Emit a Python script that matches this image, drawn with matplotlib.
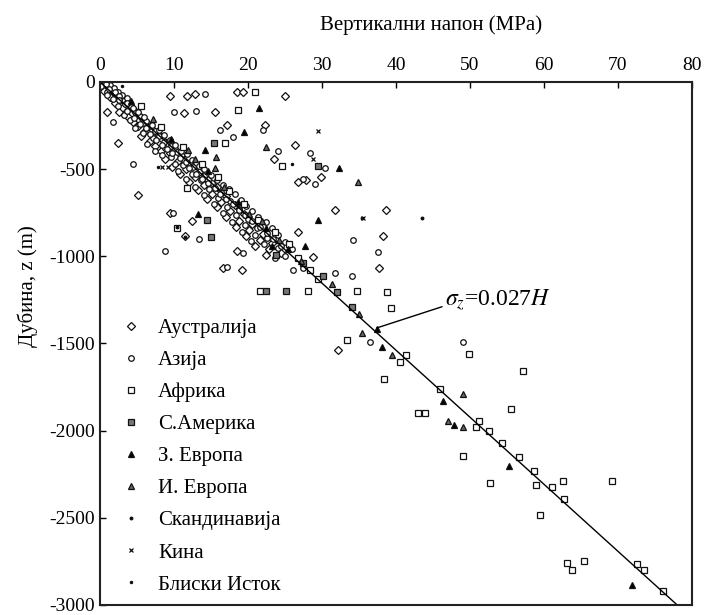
import matplotlib
matplotlib.use('Agg')
import matplotlib.pyplot as plt

plt.rcParams['font.family'] = ['Liberation Serif', 'DejaVu Serif']
plt.rcParams['mathtext.fontset'] = 'stix'
plt.rcParams['axes.unicode_minus'] = False

# ── Data: (vertical stress MPa, depth m) per region ───────────────────────────
australia_x = [0.4, 1.0, 1.6, 0.6, 2.2, 1.3, 2.8, 3.3, 2.0, 4.0, 3.0, 4.6, 2.6, 5.0, 3.8,
               5.8, 4.4, 6.5, 5.2, 7.0, 6.0, 7.8, 5.5, 8.4, 6.8, 9.0, 7.5, 10.0, 8.2, 9.4,
               11.0, 8.8, 10.6, 12.2, 9.8, 11.6, 13.4, 10.8, 12.8, 14.6, 12.0, 14.0, 15.8,
               13.2, 15.2, 17.0, 14.4, 16.4, 18.2, 15.8, 17.6, 19.4, 17.0, 18.8, 20.6, 18.4,
               20.2, 22.0, 19.8, 21.6, 23.2, 21.0, 22.8, 24.4, 22.4,
               25.0, 9.5, 12.8, 11.8, 18.5, 19.3, 15.5, 11.4, 0.9, 2.4, 5.1, 17.2, 22.3,
               26.4, 23.5, 26.8, 27.8, 29.9, 31.8, 38.6, 38.2, 37.7, 32.2, 9.5, 11.5, 12.4,
               18.5, 16.6, 19.2, 28.8, 26.8]
australia_z = [-15, -30, -45, -50, -70, -85, -95, -110, -120, -130, -150, -160, -175, -185, -200,
               -210, -230, -240, -255, -270, -285, -300, -310, -325, -340, -350, -365, -380, -395, -410,
               -420, -440, -455, -470, -485, -500, -515, -530, -545, -560, -575, -590, -605,
               -620, -640, -655, -670, -690, -705, -720, -740, -760, -775, -795, -815, -830,
               -850, -870, -885, -905, -925, -940, -960, -980, -995,
               -80, -80, -69, -80, -57, -57, -171, -177, -171, -349, -651, -246, -246,
               -360, -440, -571, -560, -543, -737, -737, -886, -1069, -1537, -749, -886, -800,
               -971, -1069, -1080, -1006, -863]

asia_x = [0.2, 1.4, 0.9, 1.9, 2.5, 1.7, 3.0, 3.6, 2.4, 3.4, 4.2, 3.2, 4.8, 5.4, 4.0, 5.8,
          6.2, 4.8, 6.8, 7.4, 5.8, 7.2, 8.0, 6.4, 8.6, 9.6, 7.4, 8.8, 10.4, 8.4, 9.6, 11.4,
          10.2, 11.2, 12.6, 10.6, 12.4, 14.0, 11.6, 13.6, 15.2, 12.8, 14.8, 16.4, 14.0, 16.0,
          17.6, 15.4, 17.2, 18.8, 16.6, 18.4, 20.0, 17.8, 19.6, 21.2, 19.2, 21.0, 22.6, 20.4,
          22.2, 24.0, 23.6, 25.0,
          14.2, 13.0, 10.0, 1.8, 4.5, 8.8, 16.2, 18.0, 22.0, 24.1, 28.4, 27.4, 29.1, 30.4,
          34.2, 37.6, 31.8, 49.0, 9.9, 13.4, 19.3, 17.2, 26.1, 27.4, 34.0, 36.5,
          0.8, 1.2, 2.0, 2.6, 1.0, 3.6, 2.6, 4.4, 3.6, 5.2, 4.6, 6.0, 5.4, 7.0, 6.2, 8.0,
          6.8, 8.6, 7.6, 9.4, 8.4, 10.2, 9.0, 11.0, 9.8, 11.8, 10.8, 12.4, 11.6, 13.4, 12.0,
          14.0, 13.0, 15.0, 13.8, 15.8, 14.6, 16.6, 15.6, 17.4, 16.2, 18.2, 17.0, 19.0, 18.0,
          19.8, 18.8, 20.6, 19.6, 21.4, 20.6, 22.4, 21.6, 23.2, 22.6, 24.0, 23.4, 25.0, 24.4, 26.0]
asia_z = [-25, -20, -60, -35, -55, -100, -75, -90, -140, -125, -145, -190, -175, -195, -220, -235,
          -225, -265, -255, -280, -295, -320, -310, -355, -345, -365, -395, -380, -400, -420, -430, -445,
          -470, -475, -490, -510, -525, -540, -555, -565, -580, -600, -615, -630, -650, -665,
          -680, -700, -715, -730, -750, -765, -785, -805, -820, -840, -860, -875, -895, -915,
          -930, -950, -1010, -1000,
          -69, -166, -171, -229, -469, -971, -274, -314, -274, -394, -406, -554, -583, -491,
          -909, -977, -1097, -1491, -749, -903, -983, -1063, -1080, -1069, -1114, -1491,
          -10, -40, -60, -80, -75, -120, -105, -150, -165, -170, -205, -200, -240, -245, -265, -275,
          -300, -305, -330, -335, -360, -360, -385, -395, -405, -415, -435, -450, -460, -480, -495,
          -500, -530, -535, -555, -560, -580, -590, -610, -615, -645, -645, -670, -675, -700,
          -710, -735, -740, -765, -775, -800, -805, -830, -840, -865, -880, -900, -920, -940, -960]

africa_x = [5.6, 8.2, 11.2, 13.8, 16.0, 17.4, 19.4, 21.4, 23.6, 25.6, 26.8, 28.4, 29.4,
            21.0, 18.6, 24.6, 16.9, 11.8, 10.4, 21.6, 28.1, 34.7, 38.8, 39.3, 33.4,
            40.5, 41.4, 49.9, 57.2, 38.4, 45.9, 43.0, 43.9, 55.5, 50.8, 51.2, 52.6,
            54.3, 49.0, 56.6, 58.6, 52.7, 58.9, 61.1, 62.6, 62.7, 69.2, 59.5, 63.1,
            63.8, 65.4, 72.6, 73.5, 76.1]
africa_z = [-140, -260, -375, -470, -545, -625, -700, -790, -860, -930, -1010, -1080, -1130,
            -57, -160, -480, -349, -606, -840, -1200, -1200, -1200, -1206, -1297, -1480,
            -1606, -1566, -1560, -1657, -1703, -1760, -1897, -1897, -1874, -1977, -1943, -2000,
            -2069, -2143, -2154, -2234, -2303, -2314, -2326, -2286, -2394, -2286, -2486, -2760,
            -2800, -2749, -2766, -2800, -2920]

s_america_x = [29.5, 15.4, 15.0, 14.5, 23.8, 30.1, 32.0, 34.0, 27.4, 22.5, 25.2]
s_america_z = [-480, -349, -891, -794, -994, -1114, -1206, -1291, -1040, -1200, -1200]

w_europe_x = [21.5, 32.3, 29.5, 23.2, 27.7, 37.4, 38.1, 46.4, 47.8, 55.3, 71.9,
              4.2, 9.6, 14.6, 18.6, 22.4, 25.4, 19.5, 14.2, 13.2]
w_europe_z = [-149, -491, -794, -943, -943, -1417, -1520, -1829, -1966, -2200, -2886,
              -110, -325, -510, -690, -835, -960, -286, -389, -760]

e_europe_x = [34.9, 27.2, 35.4, 39.5, 49.0, 47.0, 49.0, 22.4, 11.9, 15.7, 15.5, 21.9,
              7.2, 12.8, 16.8, 20.2, 24.2, 31.4, 35.0]
e_europe_z = [-571, -1029, -1440, -1566, -1789, -1943, -1977, -371, -389, -429, -491, -800,
              -215, -440, -600, -760, -905, -1160, -1330]

scandinavia_x = [43.5, 35.4, 10.4, 11.5]
scandinavia_z = [-783, -783, -834, -891]

china_x = [29.5, 28.8, 35.5, 8.4, 9.2]
china_z = [-280, -440, -783, -486, -486]

middle_east_x = [26.0, 3.0, 7.8]
middle_east_z = [-470, -25, -486]

fit_x = [0, 78]
fit_z = [0, -3000]

series = [
    ('Аустралија',   australia_x,   australia_z,   'D', 3.6, 'white'),
    ('Азија',        asia_x,        asia_z,        'o', 4.0, 'white'),
    ('Африка',       africa_x,      africa_z,      's', 3.8, 'white'),
    ('С.Америка',    s_america_x,   s_america_z,   's', 3.8, '#777777'),
    ('З. Европа',    w_europe_x,    w_europe_z,    '^', 4.6, 'black'),
    ('И. Европа',    e_europe_x,    e_europe_z,    '^', 4.6, '#666666'),
    ('Скандинавија', scandinavia_x, scandinavia_z, '.', 3.8, 'black'),
    ('Кина',         china_x,       china_z,       'x', 3.2, 'black'),
    ('Блиски Исток', middle_east_x, middle_east_z, '.', 3.2, 'black'),
]

fig = plt.figure(figsize=(7.12, 6.15), dpi=100)
ax = fig.add_axes([0.1404, 0.0163, 0.8315, 0.8504])

for label, xs, zs, mk, ms, fc in series:
    ax.plot(xs, zs, linestyle='none', marker=mk, markersize=ms,
            markerfacecolor=fc, markeredgecolor='#111111', markeredgewidth=0.9,
            label=label)

ax.plot(fit_x, fit_z, color='black', linewidth=1.0)

ax.annotate(r'$\sigma_z$=0.027$H$', xy=(37.4, -1411), xytext=(46.6, -1255),
            fontsize=17, va='center', ha='left',
            arrowprops=dict(arrowstyle='-', color='black', lw=1.0,
                            shrinkA=0, shrinkB=0, relpos=(0, 0.3)))

ax.set_xlim(0, 80)
ax.set_ylim(-3000, 0)
ax.set_xticks(range(0, 81, 10))
ax.set_yticks(range(-3000, 1, 500))
ax.xaxis.tick_top()
ax.xaxis.set_label_position('top')
ax.tick_params(axis='both', direction='in', length=4, width=1, labelsize=14,
               top=True, bottom=False, left=True, right=False)
ax.tick_params(axis='x', pad=6)

ax.set_xlabel('Вертикални напон (MPa)', fontsize=15)
ax.xaxis.set_label_coords(0.56, 1.1)
ax.set_ylabel('Дубина, z (m)', fontsize=15)
ax.yaxis.set_label_coords(-0.105, 0.61)

for sp in ax.spines.values():
    sp.set_linewidth(1.5)
    sp.set_color('#222222')

ax.legend(loc='upper left', bbox_to_anchor=(0.035, 0.548), frameon=False,
          fontsize=15, handlelength=1.0, handletextpad=0.8, labelspacing=0.6,
          borderpad=0, borderaxespad=0)

fig.savefig('out.png', dpi=100)
